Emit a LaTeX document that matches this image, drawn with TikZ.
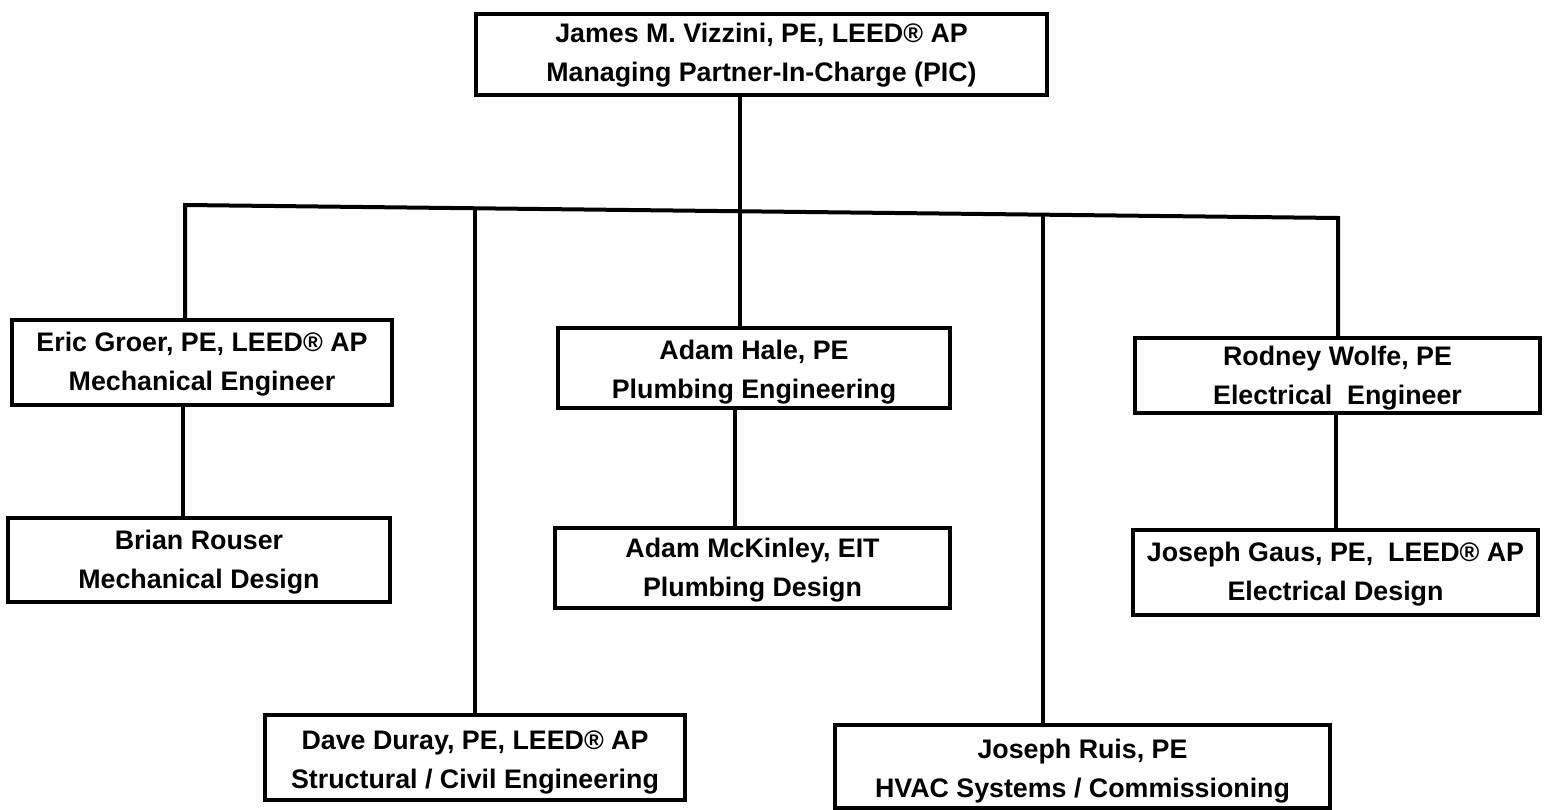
\documentclass[tikz,border=0pt]{standalone}
\usepackage{fontspec}
\setmainfont{Liberation Sans}
\begin{document}
\begin{tikzpicture}[x=1pt,y=-1pt,
  box/.style={draw=black, line width=4pt, fill=white, inner sep=0pt},
  txt/.style={align=center, inner sep=0pt, font=\fontsize{26.8}{39}\selectfont\bfseries},
  link/.style={draw=black, line width=4pt}]
\useasboundingbox[fill=white] (0,0) rectangle (1549,810);
% boxes
\node[box, minimum width=571, minimum height=81] (pic) at (761.5,54.5) {};
\node[box, minimum width=380, minimum height=85] (eric) at (202,362.5) {};
\node[box, minimum width=382, minimum height=84] (brian) at (199,560) {};
\node[box, minimum width=392, minimum height=80] (hale) at (754,368) {};
\node[box, minimum width=395, minimum height=80] (mck) at (752.5,568) {};
\node[box, minimum width=405, minimum height=75] (wolfe) at (1337.5,375.5) {};
\node[box, minimum width=405, minimum height=85] (gaus) at (1335.5,572.5) {};
\node[box, minimum width=420, minimum height=85] (duray) at (475,757.5) {};
\node[box, minimum width=495, minimum height=83] (ruis) at (1082.5,766.5) {};
% texts
\node[txt] (pic-t) at ([yshift=-1]pic.center) {James M. Vizzini, PE, LEED® AP\\Managing Partner-In-Charge (PIC)};
\node[txt] (eric-t) at ([yshift=-2]eric.center) {Eric Groer, PE, LEED® AP\\Mechanical Engineer};
\node[txt] (brian-t) at ([yshift=-2]brian.center) {Brian Rouser\\Mechanical Design};
\node[txt] (hale-t) at ([yshift=-4]hale.center) {Adam Hale, PE\\Plumbing Engineering};
\node[txt] (mck-t) at ([yshift=-2]mck.center) {Adam McKinley, EIT\\Plumbing Design};
\node[txt] (wolfe-t) at ([yshift=-3]wolfe.center) {Rodney Wolfe, PE\\Electrical~ Engineer};
\node[txt] (gaus-t) at ([yshift=-2]gaus.center) {Joseph Gaus, PE,~ LEED® AP\\Electrical Design};
\node[txt] (duray-t) at ([yshift=-5]duray.center) {Dave Duray, PE, LEED® AP\\Structural / Civil Engineering};
\node[txt] (ruis-t) at ([yshift=-5]ruis.center) {Joseph Ruis, PE\\HVAC Systems / Commissioning};
% bus coordinates
\coordinate (b1) at (185,205);
\coordinate (b2) at (475,208.3);
\coordinate (bc) at (740,211.3);
\coordinate (b4) at (1043,214.7);
\coordinate (b5) at (1338,218);
% connectors
\draw[link] (pic.south -| bc) -- (bc);
\draw[link, line join=miter] (b1 |- eric.north) -- (b1) -- (b5) -- (b5 |- wolfe.north);
\draw[link] (b2) -- (b2 |- duray.north);
\draw[link] (bc) -- (bc |- hale.north);
\draw[link] (b4) -- (b4 |- ruis.north);
\draw[link] (eric.south -| 183,0) -- (brian.north -| 183,0);
\draw[link] (hale.south -| 735,0) -- (mck.north -| 735,0);
\draw[link] (wolfe.south -| 1336,0) -- (gaus.north -| 1336,0);
\end{tikzpicture}
\end{document}
